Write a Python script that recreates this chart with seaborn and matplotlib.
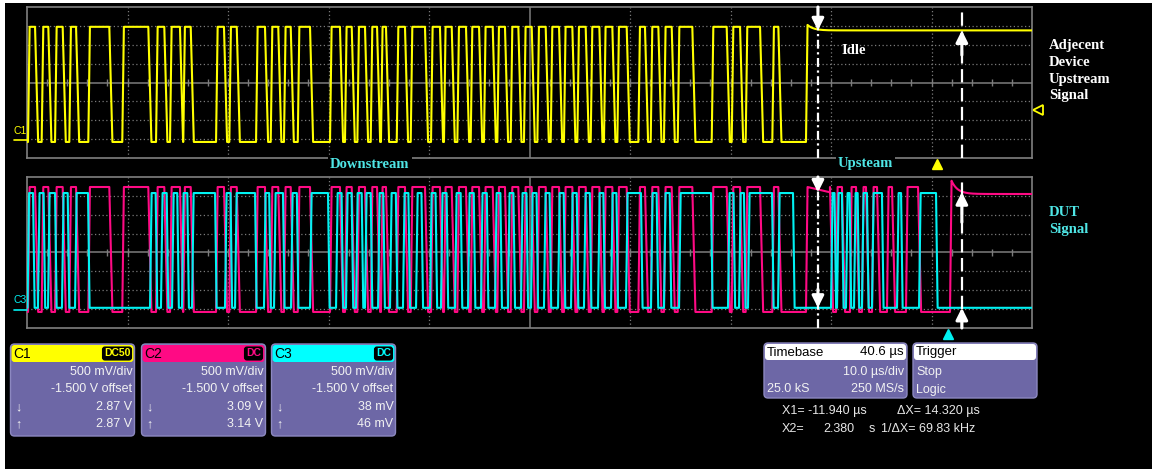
import numpy as np
import matplotlib
matplotlib.use('Agg')
import matplotlib.pyplot as plt
import seaborn as sns
from matplotlib.patches import FancyBboxPatch, Rectangle

# ---- traces: time in µs from the left edge (10 µs/div) ----
# C1 (adjacent device upstream): starts low, toggles at every edge
c1_edges = [0.10, 0.80, 1.46, 2.12, 2.79, 3.55, 4.21, 4.88, 6.10, 8.19,
            9.48, 12.07, 12.84, 13.66, 14.23, 15.22, 15.55, 16.29, 18.81, 19.60,
            20.13, 20.87, 22.79, 23.68, 24.25, 25.00, 25.57, 26.24, 26.94, 28.16,
            30.15, 31.14, 31.64, 32.31, 32.87, 33.63, 34.20, 34.83, 35.22, 35.72,
            36.79, 37.61, 38.18, 39.60, 40.20, 41.09, 41.49, 42.26, 42.82, 43.68,
            44.15, 44.98, 45.47, 46.34, 46.80, 47.56, 48.13, 48.89, 49.45, 50.22,
            50.78, 51.61, 52.11, 52.94, 53.43, 54.26, 54.76, 55.59, 56.09, 56.95,
            57.41, 58.24, 58.74, 59.67, 60.83, 61.49, 62.06, 62.82, 63.38, 64.15,
            64.75, 66.20, 68.13, 69.62, 70.12, 70.95, 71.51, 72.94, 74.16, 74.76,
            77.51]
# C2 (magenta) follows C1, then differs in the upstream burst
c2_upstream = [77.51, 79.90, 80.50, 81.09, 81.89, 82.49, 83.08, 83.48, 84.08, 84.58,
               85.57, 86.07, 87.46, 88.66, 91.84]
c2_edges = c1_edges[:-1] + c2_upstream
# C3 (DUT, cyan): high pulses (rise, fall)
c3_pulses = [(0.05, 0.60), (1.09, 1.65), (2.09, 2.79), (3.48, 4.05), (4.78, 6.07),
             (12.24, 12.80), (13.33, 13.90), (14.43, 14.95), (15.42, 15.95), (16.42, 18.71),
             (19.70, 20.25), (20.70, 22.69), (23.58, 24.10), (24.58, 25.47), (26.27, 26.85),
             (28.16, 29.95), (30.75, 31.30), (31.74, 32.30), (32.74, 33.30), (33.63, 34.20),
             (34.93, 35.45), (36.12, 36.70), (37.41, 37.95), (38.71, 39.25), (40.10, 40.65),
             (41.19, 41.75), (42.59, 43.15), (43.88, 44.45), (45.17, 45.75), (46.57, 47.10),
             (47.86, 48.40), (49.15, 49.70), (50.15, 50.70), (51.44, 52.00), (52.84, 53.40),
             (54.13, 54.70), (55.42, 56.00), (56.82, 57.35), (58.11, 58.65), (59.60, 61.09),
             (62.09, 62.65), (63.38, 63.95), (64.88, 68.06), (69.75, 70.30), (70.85, 71.34),
             (71.74, 74.13), (74.73, 76.22), (80.00, 80.35), (80.60, 81.09), (81.49, 81.85),
             (82.29, 82.65), (83.08, 83.58), (84.08, 85.07), (86.57, 86.97), (88.76, 90.45)]

# levels in divisions
c1_hi, c1_lo, c1_idle = 2.95, -3.15, 2.76
c2_hi, c2_lo, c2_tail = 3.47, -3.15, 3.10
c3_hi, c3_lo = 3.15, -2.93

x1_cursor = 78.7
dx_cursor = 14.32
x2_cursor = x1_cursor + dx_cursor

YELLOW, MAGENTA, CYAN = '#ffff00', '#ff0a84', '#00f2f2'
LABEL_CYAN = '#4fe6e6'
BOX = '#6d67a6'

t = np.linspace(0, 100, 20001)


def logic_trace(edges, hi, lo, rise=0.15, fall=0.3):
    state = np.zeros_like(t)
    for k, e in enumerate(edges):
        if k % 2 == 0:
            state += np.clip((t - e) / rise, 0, 1)
        else:
            state -= np.clip((t - e) / fall, 0, 1)
    return lo + (hi - lo) * state


y1 = logic_trace(c1_edges, c1_hi, c1_lo)
m = t > c1_edges[-1] + 0.15
y1[m] = c1_idle + (c1_hi + 0.1 - c1_idle) * np.exp(-(t[m] - t[m][0]) / 0.6)

y2 = logic_trace(c2_edges, c2_hi, c2_lo)
m = (t > c2_upstream[0] + 0.15) & (t < c2_upstream[1])
y2[m] -= 0.3 * (t[m] - t[m][0]) / (c2_upstream[1] - c2_upstream[0])
m = t > c2_upstream[-1] + 0.15
y2[m] = c2_tail + 0.7 * np.exp(-(t[m] - t[m][0]) / 0.6)

y3 = logic_trace([e for p in c3_pulses for e in p], c3_hi, c3_lo, rise=0.15, fall=0.15)

sns.set_style('dark', {'axes.facecolor': 'black', 'figure.facecolor': 'black'})
fig = plt.figure(figsize=(11.52, 4.69), dpi=100)
fig.patch.set_facecolor('black')

W, H = 1152, 469
ax1 = fig.add_axes([27 / W, 1 - 158 / H, 1005 / W, 151 / H])
ax2 = fig.add_axes([27 / W, 1 - 328 / H, 1005 / W, 151 / H])


def scope_grid(ax):
    ax.set_facecolor('black')
    ax.set_xlim(0, 100)
    ax.set_ylim(-4, 4)
    ax.set_xticks([])
    ax.set_yticks([])
    for sp in ax.spines.values():
        sp.set_color('#808080')
        sp.set_linewidth(1.2)
    for xv in range(10, 100, 10):
        if xv != 50:
            ax.axvline(xv, color='#7a7a7a', lw=0.9, ls=(0, (1, 2)), zorder=1)
    for yv in range(-3, 4):
        if yv != 0:
            ax.axhline(yv, color='#7a7a7a', lw=0.9, ls=(0, (1, 2)), zorder=1)
    ax.axhline(0, color='#7c7c7c', lw=1.1, zorder=1)
    ax.axvline(50, color='#7c7c7c', lw=1.1, zorder=1)
    ax.vlines(np.arange(2, 100, 2), -0.18, 0.18, color='#7c7c7c', lw=1.0, zorder=1)


scope_grid(ax1)
scope_grid(ax2)

sns.lineplot(x=t, y=y1, ax=ax1, color=YELLOW, linewidth=1.5, estimator=None, sort=False, zorder=3)
sns.lineplot(x=t, y=y2, ax=ax2, color=MAGENTA, linewidth=1.5, estimator=None, sort=False, zorder=3)
sns.lineplot(x=t, y=y3, ax=ax2, color=CYAN, linewidth=1.5, estimator=None, sort=False, zorder=4)
for ax in (ax1, ax2):
    ax.set_xlabel('')
    ax.set_ylabel('')

# cursors
for ax in (ax1, ax2):
    ax.axvline(x1_cursor, color='white', lw=1.6, ls=(0, (4, 1.6, 1, 1.6)), zorder=6)
    ax.axvline(x2_cursor, color='white', lw=1.6, ls=(0, (6, 2.5)), zorder=6)

arrow = dict(arrowstyle='-|>,head_length=0.7,head_width=0.35', color='white', lw=2.2,
             mutation_scale=10, shrinkA=0, shrinkB=0)
ax1.annotate('', xy=(x1_cursor, c1_idle), xytext=(x1_cursor, 4.0), arrowprops=arrow, zorder=7)
ax1.annotate('', xy=(x2_cursor, c1_idle), xytext=(x2_cursor, 1.45), arrowprops=arrow, zorder=7)
ax2.annotate('', xy=(x1_cursor, 3.18), xytext=(x1_cursor, 4.0), arrowprops=arrow, zorder=7)
ax2.annotate('', xy=(x1_cursor, c3_lo), xytext=(x1_cursor, -1.95), arrowprops=arrow, zorder=7)
ax2.annotate('', xy=(x2_cursor, 3.2), xytext=(x2_cursor, 1.6), arrowprops=arrow, zorder=7)
ax2.annotate('', xy=(x2_cursor, c3_lo), xytext=(x2_cursor, -4.0), arrowprops=arrow, zorder=7)

# trigger markers
ax1.plot([100.6], [-1.46], marker='<', mfc='none', mec=YELLOW, mew=1.3, ms=7, clip_on=False)
ax1.plot([90.55], [-4.31], marker='^', color=YELLOW, ms=7, clip_on=False)
ax2.plot([91.64], [-4.31], marker='^', color=CYAN, ms=7, clip_on=False)

# ---- overlay in pixel coordinates for labels and readout boxes ----
ov = fig.add_axes([0, 0, 1, 1], zorder=10)
ov.set_xlim(0, W)
ov.set_ylim(H, 0)
ov.axis('off')
ov.add_patch(Rectangle((0, 0), W, 3, fc='white', ec='none'))
ov.add_patch(Rectangle((0, 0), 5, H, fc='white', ec='none'))

serif = dict(family='Liberation Serif', weight='bold', fontsize=10.5, va='center')
for i, word in enumerate(['Adjecent', 'Device', 'Upstream', 'Signal']):
    ov.text(1049, 45 + 17 * i, word, color='white', **serif)
ov.text(841, 50, 'Idle', color='white', **serif)
ov.text(1049, 212, 'DUT', color=LABEL_CYAN, **serif)
ov.text(1049, 229, 'Signal', color=LABEL_CYAN, **serif)
ov.text(330, 165, 'Downstream', color=LABEL_CYAN,
        bbox=dict(fc='black', ec='none', pad=1.5), **serif)
ov.text(838, 164, 'Upsteam', color=LABEL_CYAN,
        bbox=dict(fc='black', ec='none', pad=1.5), **serif)

sans = ['Liberation Sans', 'DejaVu Sans']
ov.text(13, 131, 'C1', color=YELLOW, family=sans, fontsize=7.5, va='center')
ov.plot([14, 27], [140.5, 140.5], color=YELLOW, lw=1.2)
ov.text(13, 300, 'C3', color=CYAN, family=sans, fontsize=7.5, va='center')
ov.plot([14, 27], [310.5, 310.5], color=CYAN, lw=1.2)

channels = ['C1', 'C2', 'C3']
ch_colors = [YELLOW, MAGENTA, '#00ffff']
ch_coupling = ['DC50', 'DC', 'DC']
ch_vdiv = ['500 mV/div'] * 3
ch_offset = ['-1.500 V offset'] * 3
ch_down = ['2.87 V', '3.09 V', '38 mV']
ch_up = ['2.87 V', '3.14 V', '46 mV']
box_x = [10.5, 141.5, 271.5]

txt = dict(family=sans, fontsize=9, color='#f2f2f2', va='center')
for i in range(3):
    x0 = box_x[i]
    ov.add_patch(FancyBboxPatch((x0, 344), 124, 92, boxstyle='round,pad=0,rounding_size=4',
                                fc=BOX, ec='#8c88c0', lw=1))
    ov.add_patch(FancyBboxPatch((x0 + 1, 345), 122, 17, boxstyle='round,pad=0,rounding_size=3',
                                fc=ch_colors[i], ec='none'))
    ov.text(x0 + 3, 353.5, channels[i], family=sans, fontsize=10, color='black', va='center')
    bw = 29 if ch_coupling[i] == 'DC50' else 18
    ov.add_patch(FancyBboxPatch((x0 + 121 - bw, 347), bw, 13, boxstyle='round,pad=0,rounding_size=2.5',
                                fc='black', ec='black', lw=0.8))
    ov.text(x0 + 121 - bw / 2, 353.5, ch_coupling[i], family=sans, fontsize=7.5, weight='bold',
            color=ch_colors[i], ha='center', va='center')
    ov.text(x0 + 122, 372, ch_vdiv[i], ha='right', **txt)
    ov.text(x0 + 122, 389.5, ch_offset[i], ha='right', **txt)
    ov.text(x0 + 5, 407, '↓', ha='left', **txt)
    ov.text(x0 + 122, 407, ch_down[i], ha='right', **txt)
    ov.text(x0 + 5, 424, '↑', ha='left', **txt)
    ov.text(x0 + 122, 424, ch_up[i], ha='right', **txt)

# timebase / trigger
ov.add_patch(FancyBboxPatch((764, 343), 143, 55, boxstyle='round,pad=0,rounding_size=4',
                            fc=BOX, ec='#8c88c0', lw=1))
ov.add_patch(FancyBboxPatch((765, 344), 141, 16, boxstyle='round,pad=0,rounding_size=3',
                            fc='white', ec='none'))
ov.text(767, 352.5, 'Timebase', family=sans, fontsize=9.5, color='black', va='center')
ov.text(904, 352.5, '40.6 µs', family=sans, fontsize=9.5, color='black', va='center', ha='right')
ov.text(904, 372, '10.0 µs/div', ha='right', **txt)
ov.text(767, 389.5, '25.0 kS', ha='left', **txt)
ov.text(904, 389.5, '250 MS/s', ha='right', **txt)

ov.add_patch(FancyBboxPatch((913, 343), 124, 55, boxstyle='round,pad=0,rounding_size=4',
                            fc=BOX, ec='#8c88c0', lw=1))
ov.add_patch(FancyBboxPatch((914, 344), 122, 16, boxstyle='round,pad=0,rounding_size=3',
                            fc='white', ec='none'))
ov.text(916, 352.5, 'Trigger', family=sans, fontsize=9.5, color='black', va='center')
ov.text(916, 372, 'Stop', ha='left', **txt)
ov.text(916, 389.5, 'Logic', ha='left', **txt)

read = dict(family=sans, fontsize=9, color='#e6e6e6', va='center')
ov.text(782, 411, 'X1= -11.940 µs', **read)
ov.text(897, 411, 'ΔX= 14.320 µs', **read)
ov.text(782, 429, 'X2=', **read)
ov.text(823, 429, '2.380', **read)
ov.text(869, 429, 's', **read)
ov.text(881, 429, '1/ΔX= 69.83 kHz', **read)

fig.savefig('out.png', dpi=100, facecolor='black')
